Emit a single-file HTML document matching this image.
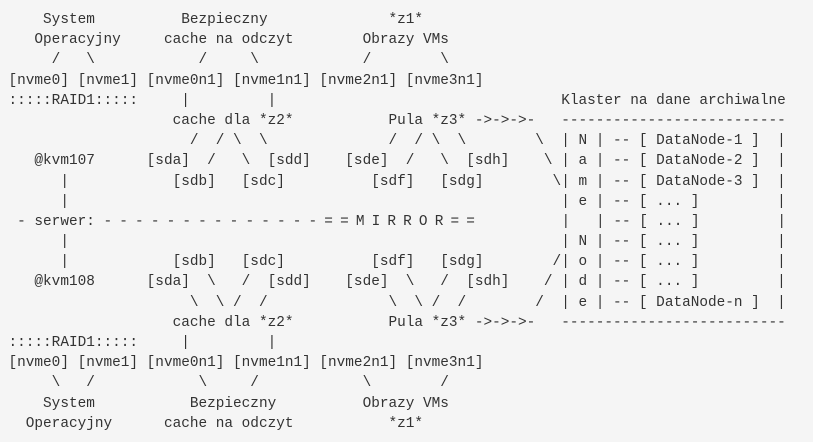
<!DOCTYPE html>
<html><head><meta charset="utf-8"><style>
html,body{margin:0;padding:0;background:#f5f5f5;}
body{width:813px;height:442px;overflow:hidden;position:relative;}
.w{position:absolute;left:8.5px;top:10px;}
pre{margin:0;font-family:"Liberation Mono",monospace;font-size:14.4px;line-height:20.2px;color:#333;white-space:pre;height:20.2px;position:relative;}
.sq{letter-spacing:-0.75px;}
.r{position:absolute;left:553px;top:0;}
</style></head><body><div class="w">
<pre>    System          Bezpieczny              *z1*</pre>
<pre>   Operacyjny     cache na odczyt        Obrazy VMs</pre>
<pre>     /   \            /     \            /        \</pre>
<pre>[nvme0] [nvme1] [nvme0n1] [nvme1n1] [nvme2n1] [nvme3n1]</pre>
<pre>:::::RAID1:::::     |         |                                 Klaster na dane archiwalne</pre>
<pre>                   cache dla *z2*           Pula *z3* -&gt;-&gt;-&gt;-   --------------------------</pre>
<pre>                     /  / \  \              /  / \  \        \  | N | -- [ DataNode-1 ]  |</pre>
<pre>   @kvm107      [sda]  /   \  [sdd]    [sde]  /   \  [sdh]    \ | a | -- [ DataNode-2 ]  |</pre>
<pre>      |            [sdb]   [sdc]          [sdf]   [sdg]        \| m | -- [ DataNode-3 ]  |</pre>
<pre>      |                                                         | e | -- [ ... ]         |</pre>
<pre> - serwer: <span class="sq">- - - - - - - - - - - - - - = = M I R R O R = =</span><span class="r">|   | -- [ ... ]         |</span></pre>
<pre>      |                                                         | N | -- [ ... ]         |</pre>
<pre>      |            [sdb]   [sdc]          [sdf]   [sdg]        /| o | -- [ ... ]         |</pre>
<pre>   @kvm108      [sda]  \   /  [sdd]    [sde]  \   /  [sdh]    / | d | -- [ ... ]         |</pre>
<pre>                     \  \ /  /              \  \ /  /        /  | e | -- [ DataNode-n ]  |</pre>
<pre>                   cache dla *z2*           Pula *z3* -&gt;-&gt;-&gt;-   --------------------------</pre>
<pre>:::::RAID1:::::     |         |</pre>
<pre>[nvme0] [nvme1] [nvme0n1] [nvme1n1] [nvme2n1] [nvme3n1]</pre>
<pre>     \   /            \     /            \        /</pre>
<pre>    System           Bezpieczny          Obrazy VMs</pre>
<pre>  Operacyjny      cache na odczyt           *z1*</pre>
</div></body></html>
